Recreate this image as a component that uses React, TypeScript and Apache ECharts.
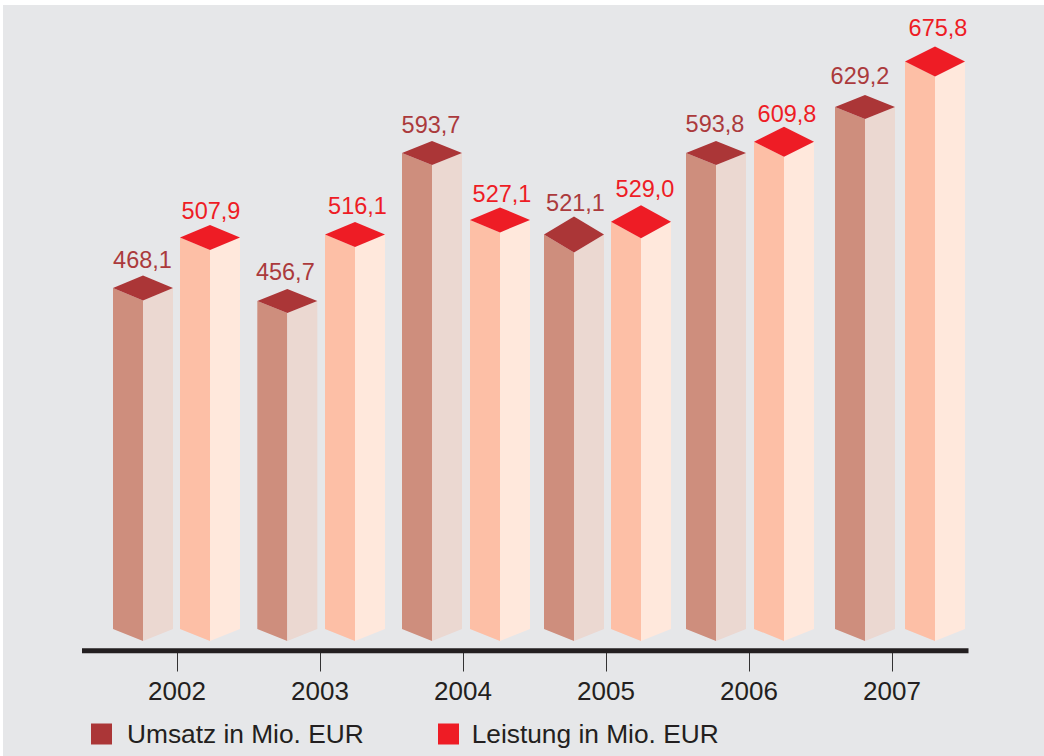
import React, { useEffect, useRef } from "react";
import * as echarts from "echarts";

const years = ["2002", "2003", "2004", "2005", "2006", "2007"];
const umsatzValues = [468.1, 456.7, 593.7, 521.1, 593.8, 629.2];
const leistungValues = [507.9, 516.1, 527.1, 529.0, 609.8, 675.8];
// The reference's bars are not quite to scale with their labels: heights.
const umsatzDrawn = [468.6, 456.7, 592.1, 517.5, 592.1, 634.2];
const leistungDrawn = [514.8, 517.5, 530.8, 529.0, 602.2, 675.8];

const FONT = '"Liberation Sans", Arial, sans-serif';
const AXIS_MIN = 135;
const AXIS_MAX = 732;
const BASE = 156.6;
const HALF_W = 30;
const BOTTOM_D = 12;
const LAYOUT = {
  umsatz: {
    shift: [-34, -32.7, -31, -32, -33, -27],
    depth: [12.5, 12, 12, 18, 12, 12],
    labelDx: [-0.5, -2, -1, 1.5, -1, -5],
    labelGap: [15.5, 16.5, 15.5, 13, 16.5, 18.5],
  },
  leistung: {
    shift: [33, 35, 37, 35, 35, 43],
    depth: [12.5, 12.5, 12.5, 16.5, 15, 15],
    labelDx: [1, 2.5, 2, 4, 3, 3],
    labelGap: [13.5, 15.5, 13.5, 16, 12.5, 18],
  },
};
const UMSATZ = { left: "#CE8E7D", right: "#EBD8D1", top: "#AB3637", label: "#AB3A3C" };
const LEISTUNG = { left: "#FDBFA6", right: "#FFE8DC", top: "#EE1C25", label: "#EE1C25" };

type Palette = typeof UMSATZ;

function bar3d(pal: Palette, layout: typeof LAYOUT.umsatz) {
  return (params: any, api: any) => {
    const i = api.value(0);
    const [px, y] = api.coord([i, api.value(1)]);
    const [, by] = api.coord([i, BASE]);
    const cx = px + layout.shift[i];
    const d = layout.depth[i];
    const l = cx - HALF_W;
    const r = cx + HALF_W;
    const text = api.value(2).toFixed(1).replace(".", ",");
    return {
      type: "group",
      children: [
        { type: "polygon", shape: { points: [[l, by], [cx, by + BOTTOM_D], [cx, y + d], [l, y]] }, style: { fill: pal.left } },
        { type: "polygon", shape: { points: [[r, by], [cx, by + BOTTOM_D], [cx, y + d], [r, y]] }, style: { fill: pal.right } },
        { type: "polygon", shape: { points: [[l, y], [cx, y - d], [r, y], [cx, y + d]] }, style: { fill: pal.top } },
        {
          type: "text",
          style: {
            x: cx + layout.labelDx[i],
            y: y - d - layout.labelGap[i],
            text,
            fill: pal.label,
            font: `23.5px ${FONT}`,
            align: "center",
            verticalAlign: "middle",
          },
        },
      ],
    };
  };
}

const legendBase = {
  top: 716,
  itemWidth: 21,
  itemHeight: 21,
  selectedMode: false,
  icon: "rect",
};

export default function App() {
  const ref = useRef<HTMLDivElement>(null);
  useEffect(() => {
    const chart = echarts.init(ref.current!, null, { renderer: "svg" });
    chart.setOption({
      animation: false,
      backgroundColor: "#FFFFFF",
      graphic: [
        { type: "rect", z: -1, shape: { x: 3, y: 5, width: 1041, height: 751 }, style: { fill: "#E6E7E9" } },
        { type: "line", z: 1, shape: { x1: 82, y1: 650.8, x2: 968.5, y2: 650.8 }, style: { stroke: "#231F20", lineWidth: 5 } },
      ],
      grid: { left: 105.5, right: 80.5, top: 0, bottom: 103.5, containLabel: false },
      legend: [
        {
          ...legendBase,
          left: 86,
          textStyle: { fontFamily: FONT, fontSize: 26.3, color: "#231F20", padding: [2, 0, 0, 10] },
          data: [{ name: "Umsatz in Mio. EUR", itemStyle: { color: UMSATZ.top } }],
        },
        {
          ...legendBase,
          left: 433,
          textStyle: { fontFamily: FONT, fontSize: 26.3, color: "#231F20", padding: [2, 0, 0, 7.7] },
          data: [{ name: "Leistung in Mio. EUR", itemStyle: { color: LEISTUNG.top } }],
        },
      ],
      xAxis: {
        type: "category",
        data: years,
        axisLine: { show: false },
        axisTick: { show: true, alignWithLabel: true, length: 19, lineStyle: { color: "#333333", width: 1 } },
        axisLabel: { margin: 25, fontFamily: FONT, fontSize: 26, color: "#231F20" },
      },
      yAxis: { type: "value", min: AXIS_MIN, max: AXIS_MAX, show: false },
      series: [
        {
          type: "custom",
          name: "Umsatz in Mio. EUR",
          itemStyle: { color: UMSATZ.top },
          clip: false,
          encode: { x: 0, y: 1 },
          renderItem: bar3d(UMSATZ, LAYOUT.umsatz),
          data: years.map((_, i) => [i, umsatzDrawn[i], umsatzValues[i]]),
        },
        {
          type: "custom",
          name: "Leistung in Mio. EUR",
          itemStyle: { color: LEISTUNG.top },
          clip: false,
          encode: { x: 0, y: 1 },
          renderItem: bar3d(LEISTUNG, LAYOUT.leistung),
          data: years.map((_, i) => [i, leistungDrawn[i], leistungValues[i]]),
        },
      ],
    });
    return () => chart.dispose();
  }, []);
  return <div ref={ref} style={{ position: "absolute", left: 0, top: 0, width: 1044, height: 756 }} />;
}
